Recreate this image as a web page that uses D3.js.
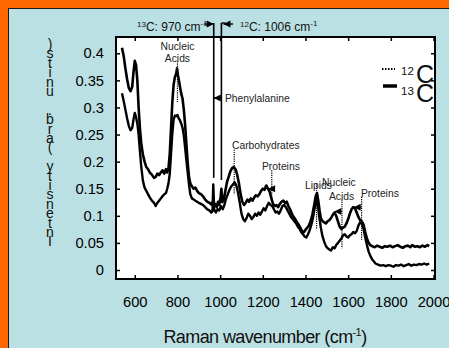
<!DOCTYPE html>
<html>
<head>
<meta charset="utf-8">
<script src="https://cdn.jsdelivr.net/npm/d3@7"></script>
<style>
  html, body { margin: 0; padding: 0; background: #ff6600; overflow: hidden; }
  svg { display: block; font-family: Arial, "Liberation Sans", sans-serif; }
</style>
</head>
<body>
<svg id="chart" width="449" height="348"></svg>
<script>
// 12C spectrum (upper trace)
const wn12 = [540, 548, 556, 564, 572, 580, 588, 594, 600, 606, 612, 618, 624, 630, 638, 646, 654, 662, 670, 680,
  690, 698, 706, 714, 722, 730, 738, 746, 752, 758, 764, 770, 776, 782, 788, 794, 798, 802, 806, 812,
  818, 824, 830, 836, 842, 848, 854, 860, 868, 876, 884, 892, 900, 910, 920, 930, 940, 950, 958, 964,
  970, 976, 984, 990, 996, 1002, 1006, 1010, 1016, 1024, 1032, 1040, 1048, 1056, 1064, 1072, 1080, 1088, 1096, 1104,
  1112, 1120, 1128, 1136, 1144, 1152, 1160, 1168, 1176, 1184, 1192, 1200, 1208, 1216, 1224, 1232, 1240, 1248, 1256, 1264,
  1272, 1280, 1288, 1296, 1304, 1312, 1320, 1328, 1336, 1344, 1352, 1360, 1368, 1376, 1384, 1392, 1400, 1408, 1416, 1424,
  1432, 1440, 1448, 1454, 1460, 1466, 1472, 1480, 1488, 1496, 1504, 1512, 1520, 1528, 1536, 1544, 1552, 1560, 1568, 1576,
  1584, 1592, 1600, 1608, 1616, 1624, 1632, 1640, 1648, 1656, 1664, 1672, 1680, 1688, 1696, 1704, 1712, 1724, 1736, 1748,
  1760, 1772, 1784, 1796, 1808, 1820, 1832, 1844, 1856, 1868, 1880, 1892, 1900, 1912, 1924, 1936, 1948, 1960, 1972, 1980];
const int12 = [0.410, 0.395, 0.372, 0.352, 0.336, 0.330, 0.338, 0.365, 0.386, 0.378, 0.350, 0.300, 0.262, 0.235, 0.213, 0.200, 0.190, 0.186, 0.180, 0.176,
  0.170, 0.172, 0.178, 0.175, 0.180, 0.184, 0.178, 0.186, 0.180, 0.188, 0.215, 0.262, 0.310, 0.342, 0.356, 0.362, 0.372, 0.360, 0.352, 0.338,
  0.325, 0.316, 0.295, 0.268, 0.232, 0.198, 0.172, 0.160, 0.154, 0.150, 0.152, 0.146, 0.142, 0.140, 0.136, 0.130, 0.126, 0.124, 0.121, 0.125,
  0.118, 0.122, 0.116, 0.126, 0.120, 0.134, 0.150, 0.125, 0.128, 0.145, 0.162, 0.172, 0.182, 0.188, 0.190, 0.186, 0.176, 0.160, 0.140, 0.126,
  0.120, 0.124, 0.130, 0.126, 0.132, 0.128, 0.134, 0.138, 0.136, 0.140, 0.146, 0.150, 0.148, 0.156, 0.150, 0.145, 0.132, 0.122, 0.118, 0.120,
  0.116, 0.122, 0.126, 0.128, 0.124, 0.126, 0.118, 0.112, 0.104, 0.098, 0.094, 0.088, 0.084, 0.078, 0.072, 0.070, 0.074, 0.078, 0.082, 0.090,
  0.102, 0.118, 0.136, 0.142, 0.128, 0.110, 0.096, 0.090, 0.088, 0.086, 0.090, 0.092, 0.096, 0.102, 0.106, 0.100, 0.090, 0.080, 0.076, 0.078,
  0.080, 0.086, 0.094, 0.104, 0.112, 0.116, 0.114, 0.106, 0.098, 0.092, 0.090, 0.084, 0.070, 0.058, 0.050, 0.046, 0.044, 0.042, 0.045, 0.043,
  0.041, 0.044, 0.043, 0.045, 0.042, 0.044, 0.046, 0.043, 0.041, 0.044, 0.045, 0.042, 0.046, 0.043, 0.044, 0.042, 0.045, 0.043, 0.046, 0.044];

// 13C spectrum (lower trace)
const wn13 = [540, 548, 556, 564, 572, 580, 588, 594, 600, 606, 612, 618, 624, 630, 638, 646, 654, 662, 670, 680,
  690, 698, 706, 714, 722, 730, 738, 746, 752, 758, 764, 770, 776, 782, 788, 794, 800, 806, 812, 818,
  824, 830, 836, 842, 848, 854, 860, 868, 876, 884, 892, 900, 910, 920, 930, 940, 950, 958, 964, 968,
  972, 980, 988, 996, 1004, 1012, 1020, 1028, 1036, 1044, 1052, 1060, 1068, 1076, 1084, 1092, 1100, 1108, 1116, 1124,
  1132, 1140, 1148, 1156, 1164, 1172, 1180, 1188, 1196, 1204, 1212, 1220, 1228, 1236, 1244, 1252, 1260, 1268, 1276, 1284,
  1292, 1300, 1308, 1316, 1324, 1332, 1340, 1348, 1356, 1364, 1372, 1380, 1388, 1396, 1404, 1412, 1420, 1428, 1436, 1444,
  1452, 1458, 1464, 1472, 1480, 1488, 1496, 1504, 1512, 1520, 1528, 1536, 1544, 1552, 1560, 1568, 1576, 1584, 1592, 1600,
  1608, 1616, 1624, 1632, 1640, 1648, 1656, 1664, 1672, 1680, 1688, 1696, 1704, 1712, 1720, 1728, 1740, 1752, 1764, 1776,
  1788, 1800, 1812, 1824, 1836, 1848, 1860, 1872, 1884, 1896, 1908, 1920, 1932, 1944, 1956, 1968, 1980];
const int13 = [0.326, 0.312, 0.296, 0.280, 0.266, 0.258, 0.262, 0.278, 0.290, 0.282, 0.270, 0.250, 0.220, 0.192, 0.165, 0.152, 0.146, 0.140, 0.134, 0.128,
  0.124, 0.118, 0.124, 0.128, 0.132, 0.136, 0.140, 0.142, 0.150, 0.160, 0.178, 0.215, 0.252, 0.278, 0.285, 0.284, 0.286, 0.280, 0.276, 0.270,
  0.262, 0.248, 0.226, 0.202, 0.180, 0.158, 0.140, 0.132, 0.130, 0.128, 0.126, 0.124, 0.122, 0.120, 0.116, 0.112, 0.110, 0.106, 0.108, 0.158,
  0.112, 0.106, 0.112, 0.110, 0.118, 0.112, 0.120, 0.132, 0.140, 0.148, 0.154, 0.158, 0.162, 0.156, 0.142, 0.124, 0.104, 0.094, 0.090, 0.096,
  0.104, 0.100, 0.094, 0.098, 0.104, 0.100, 0.106, 0.102, 0.108, 0.114, 0.110, 0.118, 0.124, 0.120, 0.118, 0.112, 0.106, 0.108, 0.104, 0.110,
  0.118, 0.120, 0.116, 0.110, 0.104, 0.098, 0.094, 0.090, 0.086, 0.080, 0.076, 0.070, 0.066, 0.062, 0.060, 0.066, 0.074, 0.084, 0.098, 0.116,
  0.128, 0.120, 0.100, 0.078, 0.062, 0.052, 0.044, 0.040, 0.038, 0.036, 0.042, 0.040, 0.046, 0.050, 0.054, 0.058, 0.064, 0.066, 0.062, 0.060,
  0.064, 0.066, 0.070, 0.068, 0.072, 0.082, 0.088, 0.086, 0.076, 0.060, 0.046, 0.034, 0.026, 0.020, 0.016, 0.012, 0.010, 0.008, 0.009, 0.007,
  0.009, 0.008, 0.006, 0.009, 0.008, 0.010, 0.007, 0.009, 0.011, 0.008, 0.010, 0.009, 0.011, 0.010, 0.012, 0.010, 0.012];

const xTicks = [600, 800, 1000, 1200, 1400, 1600, 1800, 2000];
const yTicks = [0, 0.05, 0.1, 0.15, 0.2, 0.25, 0.3, 0.35, 0.4];
const yTitle = "Intensity (arb. units)";

// peak labels: text lines, wavenumber of the marker, marker top/bottom intensity
const peakLabels = [
  { text: ["Nucleic", "Acids"], wn: 800, top: 0.385, bottom: 0.31 },
  { text: ["Carbohydrates"], wn: 1066, top: 0.222, bottom: 0.14 },
  { text: ["Proteins"], wn: 1242, top: 0.184, bottom: 0.128 },
  { text: ["Lipids"], wn: 1452, top: 0.16, bottom: 0.075 },
  { text: ["Nucleic", "Acids"], wn: 1571, top: 0.13, bottom: 0.04 },
  { text: ["Proteins"], wn: 1663, top: 0.135, bottom: 0.055 }
];

const svg = d3.select("#chart");

// blue panel on the orange page
svg.append("rect")
  .attr("x", 8.5).attr("y", 8.5)
  .attr("width", 460).attr("height", 360)
  .attr("fill", "#bbe0e3")
  .attr("stroke", "#1a1a1a")
  .attr("stroke-width", 1);

const frame = { left: 116, right: 435, top: 37, bottom: 279 };

const x = d3.scaleLinear().domain([512, 2007]).range([frame.left, frame.right]);
const y = d3.scaleLinear().domain([-0.0166, 0.43]).range([frame.bottom, frame.top]);

svg.append("rect")
  .attr("x", frame.left).attr("y", frame.top)
  .attr("width", frame.right - frame.left)
  .attr("height", frame.bottom - frame.top)
  .attr("fill", "#fff");

// axes with inward ticks
const axisStyle = g => {
  g.select(".domain").remove();
  g.selectAll(".tick line").attr("stroke", "#000").attr("stroke-width", 1.5);
  g.selectAll(".tick text").attr("fill", "#000").style("font-size", "14.7px")
    .style("font-family", "Arial, 'Liberation Sans', sans-serif");
};

svg.append("g")
  .attr("transform", `translate(0,${frame.bottom})`)
  .call(d3.axisBottom(x).tickValues(xTicks).tickFormat(d3.format("d")).tickSizeInner(-4).tickPadding(18))
  .call(axisStyle);
svg.append("g")
  .attr("transform", `translate(0,${frame.top})`)
  .call(d3.axisTop(x).tickValues(xTicks).tickSizeInner(-4).tickFormat(""))
  .call(axisStyle);
svg.append("g")
  .attr("transform", `translate(${frame.left},0)`)
  .call(d3.axisLeft(y).tickValues(yTicks).tickFormat(d => d === 0 ? "0" : d3.format("")(d)).tickSizeInner(-4).tickPadding(12))
  .call(axisStyle);
svg.append("g")
  .attr("transform", `translate(${frame.right},0)`)
  .call(d3.axisRight(y).tickValues(yTicks).tickSizeInner(-4).tickFormat(""))
  .call(axisStyle);

svg.append("rect")
  .attr("x", frame.left).attr("y", frame.top)
  .attr("width", frame.right - frame.left)
  .attr("height", frame.bottom - frame.top)
  .attr("fill", "none")
  .attr("stroke", "#000")
  .attr("stroke-width", 2);

// spectra
const line = d3.line().x(d => x(d[0])).y(d => y(d[1]));
const plot = svg.append("g");
plot.append("path")
  .datum(d3.zip(wn13, int13))
  .attr("d", line)
  .attr("fill", "none").attr("stroke", "#000").attr("stroke-width", 2.4).attr("stroke-linejoin", "round");
plot.append("path")
  .datum(d3.zip(wn12, int12))
  .attr("d", line)
  .attr("fill", "none").attr("stroke", "#000").attr("stroke-width", 2.6).attr("stroke-linejoin", "round");

// arrowhead helper: tip at (tx, ty), pointing in direction dir ('l', 'r')
function arrowHead(g, tx, ty, dir) {
  const s = dir === "l" ? 1 : -1;
  g.append("path")
    .attr("d", `M${tx},${ty} L${tx + 7 * s},${ty - 3.5} L${tx + 7 * s},${ty + 3.5} Z`)
    .attr("fill", "#000");
}

const notes = svg.append("g");

// peak markers
peakLabels.forEach(p => {
  notes.append("line")
    .attr("x1", x(p.wn)).attr("x2", x(p.wn))
    .attr("y1", y(p.top)).attr("y2", y(p.bottom))
    .attr("stroke", "#000").attr("stroke-width", 1.2).attr("stroke-dasharray", "1.2,1");
});

const noteText = (tx, ty, str, anchor) => notes.append("text")
  .attr("x", tx).attr("y", ty)
  .attr("text-anchor", anchor || "start")
  .attr("fill", "#222")
  .style("font-size", "10.3px")
  .text(str);

noteText(x(800), 50, "Nucleic", "middle");
noteText(x(800), 62, "Acids", "middle");
noteText(232, 149, "Carbohydrates");
noteText(262, 170, "Proteins");
noteText(305, 189, "Lipids");
noteText(322, 186, "Nucleic");
noteText(329, 200, "Acids");
noteText(361, 197, "Proteins");

// small arrows at the 1540 and 1630 bands
notes.append("line").attr("x1", x(1571)).attr("x2", x(1535)).attr("y1", y(0.108)).attr("y2", y(0.108)).attr("stroke", "#000");
arrowHead(notes, x(1535), y(0.108), "l");
notes.append("line").attr("x1", x(1663)).attr("x2", x(1626)).attr("y1", y(0.116)).attr("y2", y(0.116)).attr("stroke", "#000");
arrowHead(notes, x(1626), y(0.116), "l");
notes.append("line").attr("x1", x(1242)).attr("x2", x(1225)).attr("y1", y(0.15)).attr("y2", y(0.15)).attr("stroke", "#000");
arrowHead(notes, x(1225), y(0.15), "l");

// phenylalanine band markers at 970 / 1006
[970, 1006].forEach(w => {
  notes.append("line")
    .attr("x1", x(w)).attr("x2", x(w))
    .attr("y1", 23).attr("y2", y(w === 970 ? 0.17 : 0.166))
    .attr("stroke", "#000").attr("stroke-width", 1.6);
});
notes.append("line").attr("x1", x(1006)).attr("x2", x(1006) + 4).attr("y1", 23).attr("y2", 23).attr("stroke", "#000").attr("stroke-width", 1.4);
notes.append("line").attr("x1", 204).attr("x2", x(970)).attr("y1", 24).attr("y2", 24).attr("stroke", "#000").attr("stroke-width", 1.4);
arrowHead(notes, x(970), 24, "r");
notes.append("line").attr("x1", x(1006) + 2).attr("x2", 233).attr("y1", 24).attr("y2", 24).attr("stroke", "#000").attr("stroke-width", 1.4);
arrowHead(notes, x(1006) + 2, 24, "l");
notes.append("line").attr("x1", x(970)).attr("x2", x(1006)).attr("y1", 98).attr("y2", 98).attr("stroke", "#000").attr("stroke-width", 1.4);
arrowHead(notes, x(970), 98, "l");
noteText(225, 102, "Phenylalanine");

const headText = (tx, str1, str2) => {
  const t = notes.append("text").attr("x", tx).attr("y", 31).attr("fill", "#111").style("font-size", "12px");
  t.append("tspan").attr("dy", -4).style("font-size", "8px").text(str1);
  t.append("tspan").attr("dy", 4).text(str2);
  t.append("tspan").attr("dy", -5).style("font-size", "8px").text("-1");
};
headText(137, "13", "C: 970 cm");
headText(240, "12", "C: 1006 cm");

// legend
const legend = svg.append("g");
legend.append("line").attr("x1", 382).attr("x2", 395).attr("y1", 69).attr("y2", 69)
  .attr("stroke", "#000").attr("stroke-width", 2).attr("stroke-dasharray", "1.5,1.5");
legend.append("line").attr("x1", 383).attr("x2", 397).attr("y1", 86).attr("y2", 86)
  .attr("stroke", "#000").attr("stroke-width", 3.5);
[["12", 75, 83], ["13", 95, 101.5]].forEach(([iso, yb, yc]) => {
  legend.append("text").attr("x", 401).attr("y", yb).style("font-size", "11.5px").attr("fill", "#111").text(iso);
  legend.append("text").attr("x", 416).attr("y", yc).style("font-size", "25px").attr("fill", "#111").text("C");
});

// x title
const xt = svg.append("text")
  .attr("x", 265).attr("y", 343)
  .attr("text-anchor", "middle")
  .attr("fill", "#111")
  .style("font-size", "18px")
  .style("letter-spacing", "-0.6px");
xt.append("tspan").text("Raman wavenumber (cm");
xt.append("tspan").attr("dy", -7).style("font-size", "11px").text("-1");
xt.append("tspan").attr("dy", 7).text(")");

// y title: single vertical run, upright characters in reversed order
svg.append("text")
  .attr("x", 50).attr("y", 36)
  .attr("fill", "#111")
  .style("font-size", "14px")
  .style("writing-mode", "vertical-rl")
  .style("text-orientation", "upright")
  .style("letter-spacing", "-6.6px")
  .text(yTitle.split("").reverse().join(""));
</script>
</body>
</html>
